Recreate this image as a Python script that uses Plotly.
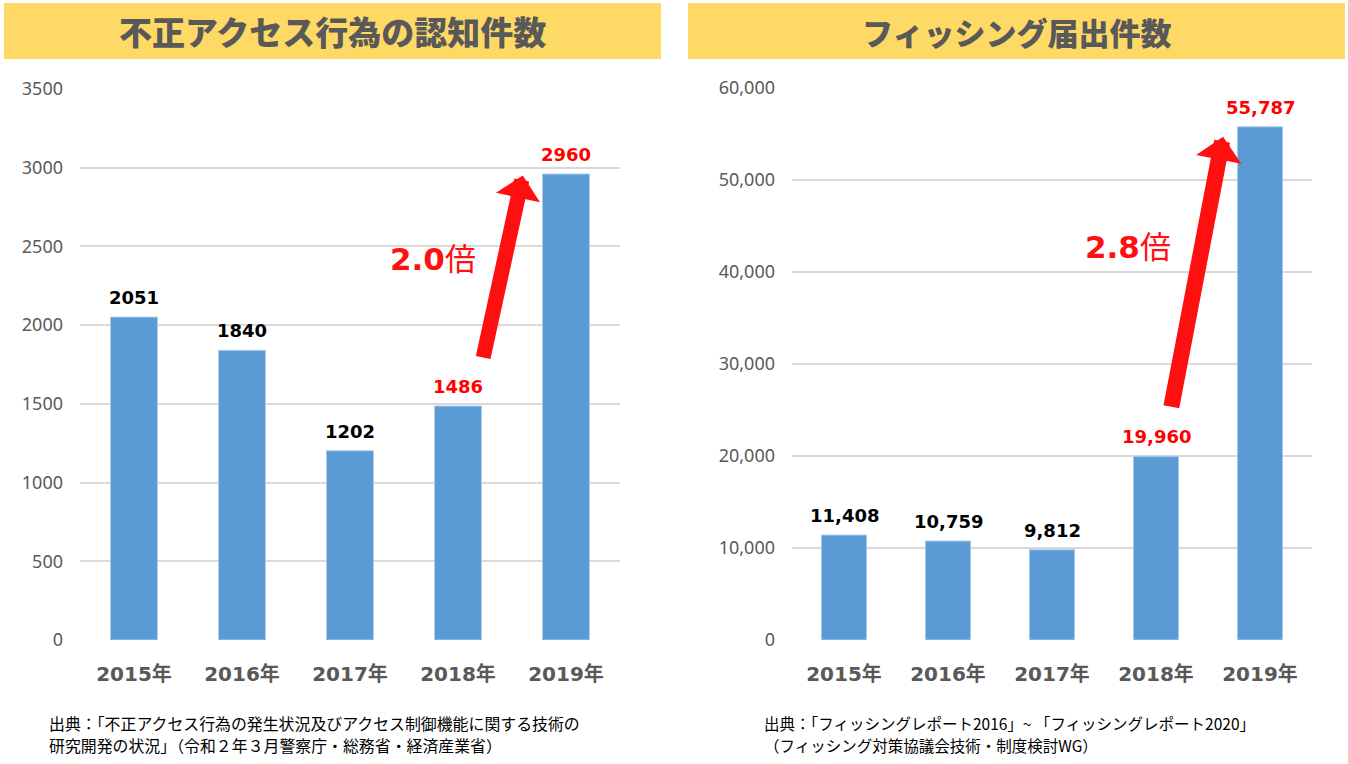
import plotly.graph_objects as go

years = ["2015年", "2016年", "2017年", "2018年", "2019年"]
access_counts = [2051, 1840, 1202, 1486, 2960]
phishing_counts = [11408, 10759, 9812, 19960, 55787]
label_colors = ["#000000", "#000000", "#000000", "#FF0000", "#FF0000"]
left_title = "不正アクセス行為の認知件数"
right_title = "フィッシング届出件数"
left_ratio = "2.0"
right_ratio = "2.8"
left_source = ["出典：「不正アクセス行為の発生状況及びアクセス制御機能に関する技術の",
               "研究開発の状況」（令和２年３月警察庁・総務省・経済産業省）"]
right_source = ["出典：「フィッシングレポート2016」~ 「フィッシングレポート2020」",
                "（フィッシング対策協議会技術・制度検討WG）"]

W, H = 1348, 764
BAR = "#5B9BD5"
GRID = "#D9D9D9"
GREY = "#595959"
RED = "#FF0F0F"
JP = "Noto Sans CJK JP"
NUM = "DejaVu Sans, Noto Sans CJK JP"


def px_x(p):
    return p / W


def px_y(p):
    return 1 - p / H


fig = go.Figure()
fig.add_trace(go.Bar(x=years, y=access_counts, width=0.435, marker=dict(color=BAR, line=dict(color="#A9CBEB", width=1)),
                     xaxis="x", yaxis="y", hoverinfo="skip"))
fig.add_trace(go.Bar(x=years, y=phishing_counts, width=0.435, marker=dict(color=BAR, line=dict(color="#A9CBEB", width=1)),
                     xaxis="x2", yaxis="y2", hoverinfo="skip"))

annotations = []
for xa, ya, vals, fmt in (("x", "y", access_counts, "{:d}"), ("x2", "y2", phishing_counts, "{:,d}")):
    for cat, v, c in zip(years, vals, label_colors):
        annotations.append(dict(x=cat, y=v, xref=xa, yref=ya, text=fmt.format(v), showarrow=False,
                                xanchor="center", yanchor="bottom", yshift=7,
                                font=dict(family=NUM, size=18, color=c, weight="bold")))

# growth arrows (data anchored: tail near 2018, head at 2019 level)
annotations.append(dict(x=3.60, y=2950, xref="x", yref="y", ax=3.23, ay=1785, axref="x", ayref="y",
                        showarrow=True, arrowhead=1, arrowsize=0.5, arrowwidth=15, arrowcolor=RED,
                        text=""))
annotations.append(dict(x=3.645, y=54700, xref="x2", yref="y2", ax=3.145, ay=25200, axref="x2", ayref="y2",
                        showarrow=True, arrowhead=1, arrowsize=0.48, arrowwidth=16, arrowcolor=RED,
                        text=""))
annotations.append(dict(x=px_x(433), y=px_y(259), xref="paper", yref="paper", showarrow=False,
                        xanchor="center", yanchor="middle",
                        text="<b>" + left_ratio + "</b>倍",
                        font=dict(family=NUM, size=31, color=RED)))
annotations.append(dict(x=px_x(1128), y=px_y(247), xref="paper", yref="paper", showarrow=False,
                        xanchor="center", yanchor="middle",
                        text="<b>" + right_ratio + "</b>倍",
                        font=dict(family=NUM, size=31, color=RED)))

# titles
annotations.append(dict(x=px_x(332), y=px_y(31), xref="paper", yref="paper", showarrow=False,
                        xanchor="center", yanchor="middle",
                        text=left_title, font=dict(family=JP, size=33, color=GREY, weight=900)))
annotations.append(dict(x=px_x(1016), y=px_y(31), xref="paper", yref="paper", showarrow=False,
                        xanchor="center", yanchor="middle",
                        text=right_title, font=dict(family=JP, size=31, color=GREY, weight=900)))

# sources
for i, line in enumerate(left_source):
    annotations.append(dict(x=px_x(47), y=px_y(723 + 22 * i), xref="paper", yref="paper", showarrow=False,
                            xanchor="left", yanchor="middle", text=line,
                            font=dict(family=JP, size=15.9, color="#000000")))
for i, line in enumerate(right_source):
    annotations.append(dict(x=px_x(762), y=px_y(723 + 22 * i), xref="paper", yref="paper", showarrow=False,
                            xanchor="left", yanchor="middle", text=line,
                            font=dict(family=JP, size=15.5, color="#000000")))

shapes = [
    dict(type="rect", xref="paper", yref="paper", x0=px_x(4), x1=px_x(661), y0=px_y(59), y1=px_y(3),
         fillcolor="#FFD966", line=dict(width=0), layer="below"),
    dict(type="rect", xref="paper", yref="paper", x0=px_x(688), x1=px_x(1345), y0=px_y(59), y1=px_y(3),
         fillcolor="#FFD966", line=dict(width=0), layer="below"),
]

xcommon = dict(type="category", range=[-0.5, 4.5], showgrid=False, showline=False, zeroline=False,
               ticks="", ticklabelstandoff=20, automargin=False,
               tickfont=dict(family=NUM, size=20, color=GREY, weight="bold"), fixedrange=True)
ycommon = dict(showgrid=True, gridcolor=GRID, gridwidth=1.5, zeroline=False, showline=False, ticks="",
               ticklabelstandoff=16, automargin=False,
               tickfont=dict(family="Noto Sans", size=18, color=GREY), fixedrange=True)

fig.update_layout(
    width=W, height=H,
    autosize=False,
    margin=dict(l=0, r=0, t=0, b=0, pad=0),
    paper_bgcolor="white", plot_bgcolor="white",
    showlegend=False,
    bargap=0.5,
    xaxis=dict(domain=[px_x(80), px_x(620)], anchor="y", **xcommon),
    yaxis=dict(domain=[px_y(640), px_y(89)], anchor="x", range=[0, 3500], dtick=500, tickformat="d", **ycommon),
    xaxis2=dict(domain=[px_x(792), px_x(1312)], anchor="y2", **xcommon),
    yaxis2=dict(domain=[px_y(640), px_y(88)], anchor="x2", range=[0, 60000], dtick=10000, tickformat=",d",
                **ycommon),
    annotations=annotations,
    shapes=shapes,
)

fig.write_html("out.html", config={"displayModeBar": False},
               post_script="document.body.style.margin='0px';document.body.style.overflow='hidden';")
